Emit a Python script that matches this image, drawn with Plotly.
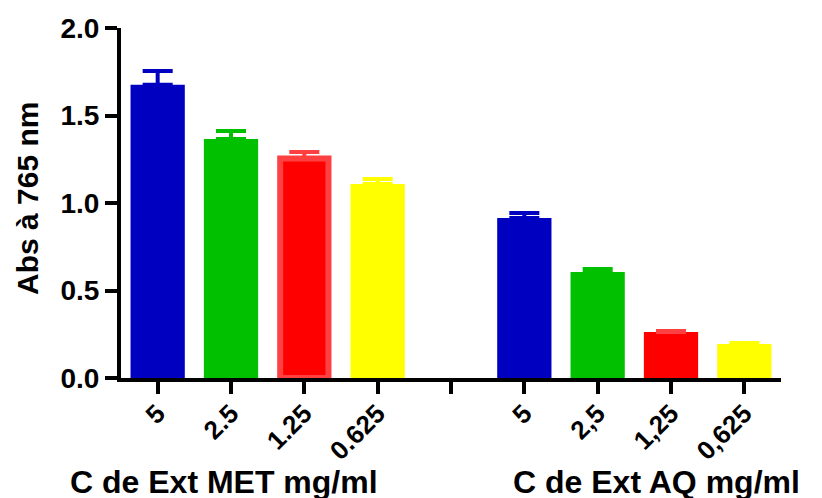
import plotly.graph_objects as go

# categories / tick labels
tick_pos = [0, 1, 2, 3, 4, 5, 6, 7, 8]
tick_labels = ["5", "2.5", "1.25", "0.625", "", "5", "2,5", "1,25", "0,625"]

# series: each colour has a MET bar and an AQ bar
x_blue, x_green, x_red, x_yellow = [0, 5], [1, 6], [2, 7], [3, 8]
val_blue = [1.676, 0.914]
err_blue = [0.079, 0.029]
val_green = [1.366, 0.606]
err_green = [0.045, 0.017]
val_red = [1.254, 0.263]
err_red = [0.037, 0.006]
val_yellow = [1.109, 0.194]
err_yellow = [0.028, 0.006]

FONT = "Liberation Sans, Arial, sans-serif"
BW = 0.74
OFF = 8  # default page body margin

W, H = 822 - OFF, 498 - OFF
L, T, R = 121 - OFF, 28 - OFF, 41
B = H - (378 - OFF)
PW, PH = W - L - R, H - T - B

fig = go.Figure()

def add(xs, vals, errs, color, ecolor, widths=None, lw=None, lc=None):
    fig.add_trace(go.Bar(
        x=xs, y=vals,
        width=widths if widths is not None else [BW] * len(xs),
        marker=dict(color=color,
                    line=dict(width=lw if lw is not None else [0] * len(xs),
                              color=lc if lc is not None else color)),
        error_y=dict(type="data", array=errs, arrayminus=[0] * len(errs),
                     symmetric=False, color=ecolor, thickness=4, width=15),
        showlegend=False,
    ))

add(x_blue, val_blue, err_blue, "#0000C0", "#0000C0")
add(x_green, val_green, err_green, "#00C000", "#00C000")
add(x_red, val_red, err_red, "#FF0000", "#FF4040",
    widths=[BW - 6 / 73.3, BW], lw=[6, 0], lc=["#FF4040", "#FF0000"])
add(x_yellow, val_yellow, err_yellow, "#FFFF00", "#FFFF00")

def px_x(p):
    return (p - 121) / PW

def px_y(p):
    return (378 - p) / PH

fig.update_layout(
    width=W, height=H,
    margin=dict(l=L, r=R, t=T, b=B, autoexpand=False),
    paper_bgcolor="white", plot_bgcolor="white",
    barmode="overlay",
    font=dict(family=FONT, color="black"),
    xaxis=dict(
        range=[-0.5, 8.5],
        tickmode="array", tickvals=tick_pos, ticktext=tick_labels,
        tickangle=-45,
        tickfont=dict(family=FONT, size=26, weight="bold", color="black"),
        ticklabelstandoff=-6,
        showline=True, linewidth=4, linecolor="black",
        ticks="outside", ticklen=12, tickwidth=4, tickcolor="black",
        showgrid=False, zeroline=False, automargin=False,
    ),
    yaxis=dict(
        range=[0, 2.0],
        tickmode="array", tickvals=[0, 0.5, 1.0, 1.5, 2.0],
        ticktext=["0.0", "0.5", "1.0", "1.5", "2.0"],
        tickfont=dict(family=FONT, size=28, weight="bold", color="black"),
        showline=True, linewidth=4, linecolor="black",
        ticks="outside", ticklen=12, tickwidth=4, tickcolor="black",
        showgrid=False, zeroline=False, automargin=False,
    ),
    annotations=[
        dict(text="C de Ext MET mg/ml", xref="paper", yref="paper",
             x=px_x(224), y=px_y(482),
             xanchor="center", yanchor="middle", showarrow=False,
             font=dict(family=FONT, size=32, weight="bold", color="black")),
        dict(text="C de Ext AQ mg/ml", xref="paper", yref="paper",
             x=px_x(656), y=px_y(482),
             xanchor="center", yanchor="middle", showarrow=False,
             font=dict(family=FONT, size=32, weight="bold", color="black")),
        dict(text="Abs à 765 nm", xref="paper", yref="paper",
             x=px_x(27), y=px_y(199), textangle=-90,
             xanchor="center", yanchor="middle", showarrow=False,
             font=dict(family=FONT, size=30, weight="bold", color="black")),
    ],
)

fig.write_html("out.html")
